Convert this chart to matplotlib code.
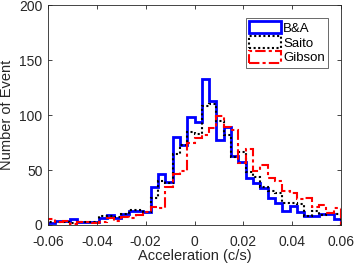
import numpy as np
import matplotlib
matplotlib.use("Agg")
import matplotlib.pyplot as plt
from matplotlib.patches import Patch

plt.rcParams['font.family'] = ['Liberation Sans', 'DejaVu Sans']

edges = np.linspace(-0.06, 0.06, 41)
blue = [2, 4, 4, 5, 3, 3, 3, 6, 9, 6, 10, 13, 13, 12, 35, 46, 39, 80, 73, 98,
        94, 133, 113, 77, 89, 63, 57, 43, 38, 34, 25, 20, 13, 17, 12, 8, 8, 10, 10, 5]
black = [3, 3, 3, 2, 3, 3, 3, 8, 8, 7, 10, 14, 14, 12, 25, 40, 38, 65, 73, 85,
         83, 108, 110, 95, 82, 62, 66, 48, 44, 35, 31, 29, 20, 20, 19, 8, 13, 9, 11, 10]
red = [5, 3, 4, 1, 3, 3, 2, 3, 6, 4, 7, 6, 9, 12, 16, 15, 35, 46, 49, 75,
       79, 82, 88, 99, 89, 86, 56, 69, 49, 55, 43, 40, 31, 29, 24, 25, 16, 18, 11, 15]
labels = ["B&A", "Saito", "Gibson"]
xticks = [-0.06, -0.04, -0.02, 0, 0.02, 0.04, 0.06]
xticklabels = ["-0.06", "-0.04", "-0.02", "0", "0.02", "0.04", "0.06"]
yticks = [0, 50, 100, 150, 200]

fig = plt.figure(figsize=(3.54, 2.69), dpi=100)
ax = fig.add_axes([0.136, 0.1636, 0.827, 0.8175])

ax.stairs(blue, edges, baseline=0, color=(0, 0, 1), lw=2.0, ls='-')
ax.stairs(black, edges, baseline=0, color='black', lw=1.5, ls=(0, (1, 1.2)))
ax.stairs(red, edges, baseline=0, color=(1, 0, 0), lw=1.5, ls=(0, (5, 1.5, 1.5, 1.5)))

ax.set_xlim(-0.06, 0.06)
ax.set_ylim(0, 200)
ax.set_xticks(xticks)
ax.set_xticklabels(xticklabels)
ax.set_yticks(yticks)
ax.tick_params(direction='in', top=True, right=True, length=3, width=0.6,
               colors='#262626', labelsize=10)
ax.tick_params(axis='x', pad=7)
ax.tick_params(axis='y', pad=4)
for s in ax.spines.values():
    s.set_color('#262626')
    s.set_linewidth(0.6)
ax.set_xlabel("Acceleration (c/s)", fontsize=10.5, color='#262626', labelpad=0.5)
ax.set_ylabel("Number of Event", fontsize=10.5, color='#262626', labelpad=4)

handles = [
    Patch(facecolor='none', edgecolor=(0, 0, 1), lw=2.0, ls='-'),
    Patch(facecolor='none', edgecolor='black', lw=1.5, ls=(0, (1, 1.2))),
    Patch(facecolor='none', edgecolor=(1, 0, 0), lw=1.5, ls=(0, (5, 1.5, 1.5, 1.5))),
]
leg = ax.legend(handles, labels, loc='upper right', bbox_to_anchor=(0.956, 0.941),
                fontsize=9.5, frameon=True, fancybox=False, edgecolor='#262626',
                handlelength=2.4, handleheight=1.0, handletextpad=0.15,
                borderpad=0.25, labelspacing=0.1, borderaxespad=0.0)
leg.get_frame().set_linewidth(0.6)

fig.savefig("out.png", dpi=100)
